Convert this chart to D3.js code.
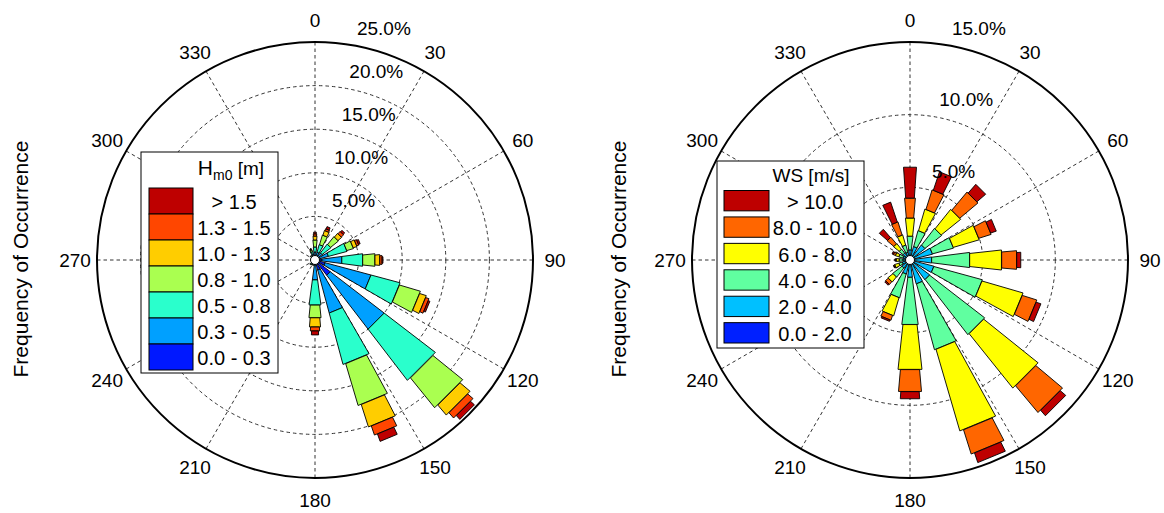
<!DOCTYPE html>
<html lang="en">
<head>
<meta charset="UTF-8">
<title>Wave and wind roses</title>
<script src="https://cdn.jsdelivr.net/npm/d3@7"></script>
<style>
  body { margin: 0; background: #fff; }
  text { font-family: Arial, "Liberation Sans", sans-serif; fill: #000; }
  .grid { stroke: #333; stroke-width: 1; stroke-dasharray: 3.5,3; fill: none; }
  .seg { stroke: #000; stroke-width: 0.9; }
</style>
</head>
<body>
<svg id="chart" width="1164" height="513"></svg>
<script>
// direction bins (deg from north)
var directions = [0, 22.5, 45, 67.5, 90, 112.5, 135, 157.5, 180, 202.5, 225, 247.5, 270, 292.5, 315, 337.5];
var angleTicks = [0, 30, 60, 90, 120, 150, 180, 210, 240, 270, 300, 330];

// wave height classes, % of occurrence per direction
var hsClasses = ["0.0 - 0.3", "0.3 - 0.5", "0.5 - 0.8", "0.8 - 1.0", "1.0 - 1.3", "1.3 - 1.5", "> 1.5"];
var hs1 = [0.35, 0.35, 0.3, 0.45, 0.8, 1.2, 2.2, 1.2, 0.6, 0.3, 0.35, 0.2, 0.2, 0.25, 0.3, 0.4];
var hs2 = [0.57, 0.57, 0.73, 1.15, 2.3, 5.45, 7.8, 5.1, 1.7, 0.2, 0.25, 0.1, 0.1, 0.15, 0.2, 0.35];
var hs3 = [0.58, 0.91, 1.27, 2.2, 2.4, 3.45, 7.4, 6.1, 2.9, 0.1, 0.1, 0.05, 0.05, 0.05, 0.1, 0.25];
var hs4 = [0.8, 1.15, 1.15, 0.8, 1.4, 2.5, 4.4, 5.0, 1.45, 0.05, 0.05, 0, 0, 0.03, 0.05, 0.2];
var hs5 = [0.45, 0.57, 0.55, 0.45, 0.55, 0.8, 1.5, 2.7, 1.05, 0, 0, 0, 0, 0, 0.03, 0.1];
var hs6 = [0.25, 0.23, 0.36, 0.25, 0.25, 0.4, 0.8, 1.1, 0.45, 0, 0, 0, 0, 0, 0, 0.05];
var hs7 = [0.2, 0.29, 0.24, 0.2, 0.1, 0.2, 0.6, 0.9, 0.45, 0, 0, 0, 0, 0, 0, 0.03];
var hsTicks = [5, 10, 15, 20, 25];

// wind speed classes
var wsClasses = ["0.0 - 2.0", "2.0 - 4.0", "4.0 - 6.0", "6.0 - 8.0", "8.0 - 10.0", "> 10.0"];
var ws1 = [0.1, 0.1, 0.15, 0.15, 0.15, 0.2, 0.2, 0.2, 0.15, 0.1, 0.1, 0.1, 0.1, 0.1, 0.1, 0.1];
var ws2 = [0.6, 0.86, 1.15, 1.45, 1.35, 1.5, 1.5, 1.5, 1.05, 0.9, 0.6, 0.45, 0.4, 0.4, 0.5, 0.45];
var ws3 = [0.95, 1.14, 1.45, 1.5, 2.63, 3.46, 4.8, 4.7, 3.27, 1.7, 0.8, 0.25, 0.25, 0.3, 0.35, 0.52];
var ws4 = [1.25, 1.55, 1.72, 1.86, 2.2, 2.94, 4.8, 5.85, 3.1, 1.3, 0.45, 0.3, 0.2, 0.25, 0.5, 0.73];
var ws5 = [1.37, 1.41, 1.63, 0.89, 1.03, 1.05, 2.4, 1.75, 1.51, 0.35, 0.25, 0.07, 0.05, 0.15, 0.6, 0.95];
var ws6 = [2.13, 1.34, 0.8, 0.41, 0.28, 0.35, 0.5, 0.7, 0.49, 0.1, 0.1, 0.03, 0.05, 0.1, 0.75, 1.45];
var wsTicks = [5, 10, 15];

var svg = d3.select("#chart");

function drawRose(cfg) {
  var R = 218;
  var g = svg.append("g");
  var r = d3.scaleLinear().domain([0, cfg.ticks[cfg.ticks.length - 1]]).range([0, R]);
  var ang = d3.scaleLinear().domain([0, 360]).range([0, 2 * Math.PI]);

  function pt(rad, deg) {
    var a = ang(deg);
    return [cfg.cx + rad * Math.sin(a), cfg.cy - rad * Math.cos(a)];
  }

  // grid
  cfg.ticks.slice(0, -1).forEach(function(t) {
    g.append("circle").attr("class", "grid")
      .attr("cx", cfg.cx).attr("cy", cfg.cy).attr("r", r(t));
  });
  angleTicks.forEach(function(d) {
    var p = pt(R, d);
    g.append("line").attr("class", "grid")
      .attr("x1", cfg.cx).attr("y1", cfg.cy).attr("x2", p[0]).attr("y2", p[1]);
  });

  // stacked petals
  var rows = directions.map(function(d, i) {
    var o = { dir: d };
    cfg.series.forEach(function(s, k) { o["c" + k] = s[i]; });
    return o;
  });
  var keys = cfg.series.map(function(s, k) { return "c" + k; });
  var stacked = d3.stack().keys(keys)(rows);
  var line = d3.line();

  directions.forEach(function(d, i) {
    stacked.forEach(function(layer, k) {
      var v0 = layer[i][0], v1 = layer[i][1];
      if (v1 - v0 <= 0) return;
      var h = cfg.widths[k] / 2;
      var pts = [pt(r(v0), d - h), pt(r(v1), d - h), pt(r(v1), d + h), pt(r(v0), d + h)];
      g.append("path").attr("class", "seg")
        .attr("d", line(pts) + "Z")
        .attr("fill", cfg.colors[k]);
    });
  });

  g.append("circle").attr("cx", cfg.cx).attr("cy", cfg.cy).attr("r", 4.5)
    .attr("fill", "#fff").attr("stroke", "#000").attr("stroke-width", 1);

  // outer ring
  g.append("circle").attr("cx", cfg.cx).attr("cy", cfg.cy).attr("r", R)
    .attr("fill", "none").attr("stroke", "#000").attr("stroke-width", 2);

  // angle labels
  angleTicks.forEach(function(d) {
    var p = pt(R + 22, d);
    g.append("text").attr("x", p[0]).attr("y", p[1])
      .attr("text-anchor", "middle").attr("dominant-baseline", "central")
      .style("font-size", "19px").text(d);
  });

  // radial labels
  cfg.ticks.forEach(function(t) {
    var p = pt(r(t), 10);
    g.append("text").attr("x", p[0] + 31).attr("y", p[1] - 17)
      .attr("text-anchor", "middle").attr("dominant-baseline", "central")
      .style("font-size", "19px").text(d3.format(".1f")(t) + "%");
  });

  // y title
  g.append("text")
    .attr("transform", "translate(" + cfg.titleX + "," + (cfg.cy - 1) + ") rotate(-90)")
    .attr("text-anchor", "middle").attr("dominant-baseline", "central")
    .style("font-size", "21px").text("Frequency of Occurrence");

  // legend
  var L = cfg.legend;
  var lg = g.append("g");
  lg.append("rect").attr("x", L.x).attr("y", L.y).attr("width", L.w).attr("height", L.h)
    .attr("fill", "#fff").attr("stroke", "#000").attr("stroke-width", 1);
  var title = lg.append("text").attr("x", L.titleX).attr("y", L.titleY)
    .attr("text-anchor", "middle").style("font-size", "19px");
  cfg.legendTitle(title);

  var order = cfg.classes.map(function(c, k) { return k; }).reverse();
  var band = d3.scaleBand().domain(order).range([L.rowTop, L.rowBottom]).paddingInner(L.pad);
  order.forEach(function(k) {
    lg.append("rect").attr("x", L.sx).attr("y", band(k))
      .attr("width", L.sw).attr("height", band.bandwidth())
      .attr("fill", cfg.colors[k]).attr("stroke", "#000").attr("stroke-width", 1);
    lg.append("text").attr("x", L.labelX).attr("y", band(k) + band.bandwidth() / 2 + 1)
      .attr("text-anchor", "middle").attr("dominant-baseline", "central")
      .style("font-size", "20px").text(cfg.classes[k]);
  });
}

drawRose({
  cx: 315, cy: 260, ticks: hsTicks, titleX: 20,
  series: [hs1, hs2, hs3, hs4, hs5, hs6, hs7],
  classes: hsClasses,
  colors: ["#0018ff", "#00a0ff", "#2affcc", "#aaff50", "#ffcd00", "#ff4600", "#be0000"],
  widths: [15, 15, 15, 12, 9.5, 7.5, 5.5],
  legend: { x: 141, y: 152, w: 137, h: 221, titleX: 231, titleY: 175,
            sx: 149, sw: 44, rowTop: 188, rowBottom: 370, pad: 0, labelX: 234 },
  legendTitle: function(t) {
    t.append("tspan").style("font-size", "21px").text("H");
    t.append("tspan").attr("dy", 5).style("font-size", "14px").text("m0");
    t.append("tspan").attr("dy", -5).text(" [m]");
  }
});

drawRose({
  cx: 910, cy: 260, ticks: wsTicks, titleX: 618,
  series: [ws1, ws2, ws3, ws4, ws5, ws6],
  classes: wsClasses,
  colors: ["#0020ff", "#00c0ff", "#60ffa0", "#ffff00", "#ff6600", "#be0000"],
  widths: [17, 16, 14.5, 12.5, 10, 8],
  legend: { x: 717, y: 161, w: 147, h: 187, titleX: 811, titleY: 182,
            sx: 724, sw: 45, rowTop: 190.5, rowBottom: 343, pad: 0.23, labelX: 815 },
  legendTitle: function(t) { t.text("WS [m/s]"); }
});
</script>
</body>
</html>
